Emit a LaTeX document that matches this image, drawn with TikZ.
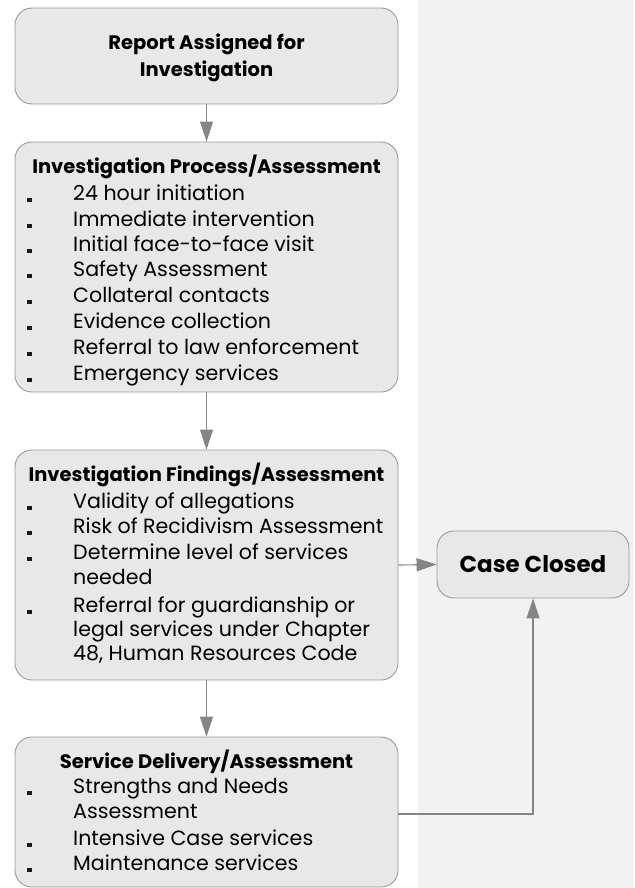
\documentclass[tikz,border=0pt]{standalone}
\usepackage{fontspec}
\setmainfont{Poppins}
\usetikzlibrary{arrows.meta}
\definecolor{boxfill}{HTML}{E8E8E8}
\definecolor{boxline}{HTML}{9A9A9A}
\definecolor{arr}{HTML}{858585}
\definecolor{panel}{HTML}{F2F2F2}
\definecolor{bul}{HTML}{1A1A1A}
\begin{document}
\begin{tikzpicture}[x=1pt,y=-1pt,
  box/.style={draw=boxline, fill=boxfill, rounded corners=17pt, line width=0.9pt, inner sep=0pt},
  conn/.style={draw=arr, line width=1.1pt, -{Triangle[width=13pt,length=20pt]}},
  body/.style={inner sep=0pt, anchor=base west, font=\fontsize{20.6}{24}\selectfont},
  head/.style={inner sep=0pt, anchor=base, font=\fontsize{19.5}{23}\selectfont\bfseries},
  bullet/.style={fill=bul, inner sep=0pt, minimum width=5pt, minimum height=4pt}]
\useasboundingbox (0,0) rectangle (634,888);
\fill[panel] (418,0) rectangle (634,888);
% boxes
\node[box, minimum width=383pt, minimum height=96pt] (b1) at (206.5,56) {};
\node[box, minimum width=383pt, minimum height=250pt] (b2) at (206.5,267) {};
\node[box, minimum width=383pt, minimum height=230pt] (b3) at (206.5,565) {};
\node[box, minimum width=383pt, minimum height=150pt] (b4) at (206.5,812) {};
\node[box, minimum width=192pt, minimum height=67pt] (cc) at (533,564.5) {};
% box 1 text
\node[head] (t1a) at (206.5,50) {Report Assigned for};
\node[head] (t1b) at (206.5,77) {Investigation};
% box 2
\node[head] (t2) at (206.5,173) {Investigation Process/Assessment};
\foreach \txt/\yy [count=\i] in {24 hour initiation/200, Immediate intervention/226, Initial face-to-face visit/251, Safety Assessment/276, Collateral contacts/302, Evidence collection/328, Referral to law enforcement/354, Emergency services/380}{
  \node[bullet] (p\i) at (29.5,\yy) {};
  \node[body] (q\i) at (73,\yy) {\txt};
}
% box 3
\node[head] (t3) at (206.5,481) {Investigation Findings/Assessment};
\foreach \yy [count=\i] in {508, 533, 559, 612}{
  \node[bullet] (r\i) at (29.5,\yy) {};
}
\node[body] (s1) at (73,508) {Validity of allegations};
\node[body] (s2) at (73,533) {Risk of Recidivism Assessment};
\node[body] (s3) at (73,559) {Determine level of services};
\node[body] (s4) at (73,584) {needed};
\node[body] (s5) at (73,612) {Referral for guardianship or};
\node[body] (s6) at (73,636) {legal services under Chapter};
\node[body] (s7) at (73,660) {48, Human Resources Code};
% box 4
\node[head] (t4) at (206.5,768) {Service Delivery/Assessment};
\foreach \yy [count=\i] in {793, 845, 870}{
  \node[bullet] (u\i) at (29.5,\yy) {};
}
\node[body] (v1) at (73,793) {Strengths and Needs};
\node[body] (v2) at (73,818) {Assessment};
\node[body] (v3) at (73,845) {Intensive Case services};
\node[body] (v4) at (73,870) {Maintenance services};
% case closed
\node[inner sep=0pt, anchor=base, font=\fontsize{23}{27}\selectfont\bfseries] (cct) at (533,572) {Case Closed};
% connectors
\draw[conn] (b1.south) -- (b2.north);
\draw[conn] (b2.south) -- (b3.north);
\draw[conn] (b3.south) -- (b4.north);
\draw[conn] (b3.east) -- (cc.west);
\draw[conn] ([yshift=-2pt]b4.east) -| (cc.south);
\end{tikzpicture}
\end{document}
